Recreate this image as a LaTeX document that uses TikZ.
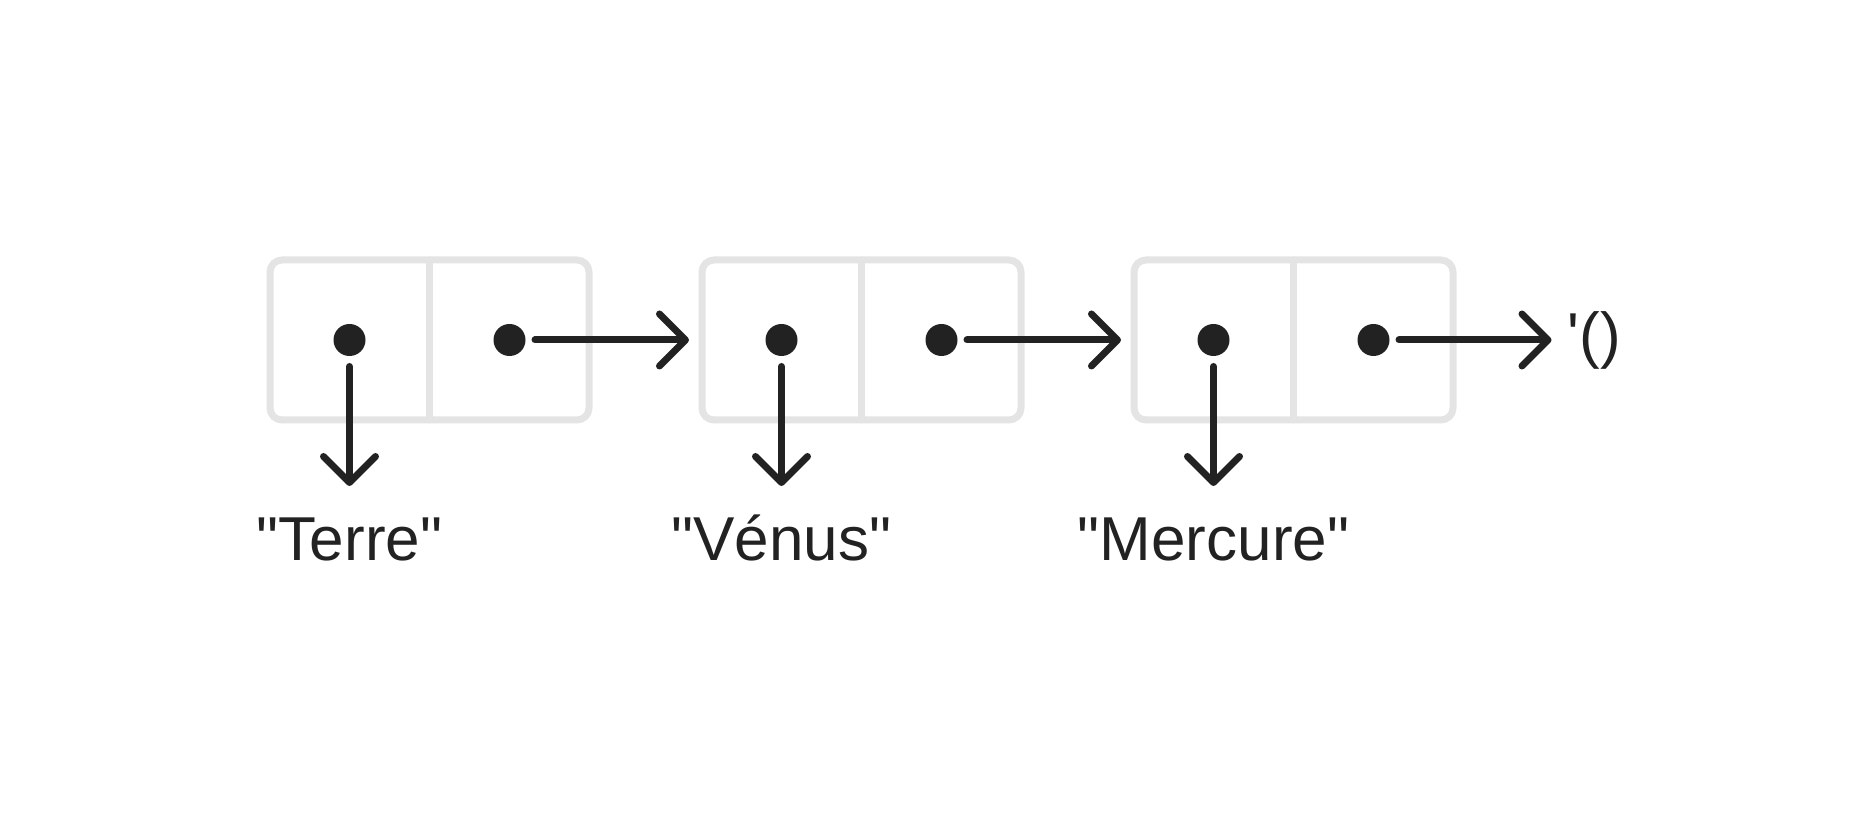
\documentclass[tikz,border=0pt]{standalone}
\usepackage{fontspec}
\setmainfont{Liberation Sans}[Ligatures=TeXOff]
\usetikzlibrary{arrows.meta,positioning}
\definecolor{ink}{HTML}{222222}
\definecolor{cellgray}{HTML}{E4E4E4}

\begin{document}
\begin{tikzpicture}[-{Straight Barb[length=13pt,width=26pt,round]},line width=3.5pt,
                    line cap=round,draw=ink,node distance=56.5pt]
  \tikzstyle{cons}=[draw=cellgray,rounded corners=6pt,minimum width=159.5pt,
                    minimum height=80pt,inner sep=0pt,outer sep=0pt]
  \tikzstyle{ptr}=[circle,fill=ink,draw=none,minimum size=16pt,inner sep=0pt,outer sep=0pt]
  \tikzstyle{word}=[text=ink,font=\fontsize{31pt}{37pt}\selectfont,inner sep=0pt,
                    outer sep=0pt,text height=22pt,text depth=6pt]

  \useasboundingbox (0,0) rectangle (936pt,409pt);

  \node[cons] (A) at (214.75pt,239pt) {};
  \node[cons] (B) [right=of A] {};
  \node[cons] (C) [right=of B] {};
  \foreach \c in {A,B,C}
    \draw[-,cellgray] (\c.north) -- (\c.south);

  \node[ptr] (a1) at ([xshift=-40pt]A.center) {};
  \node[ptr] (a2) at ([xshift=40pt]A.center) {};
  \node[ptr] (b1) at ([xshift=-40pt]B.center) {};
  \node[ptr] (b2) at ([xshift=40pt]B.center) {};
  \node[ptr] (c1) at ([xshift=-40pt]C.center) {};
  \node[ptr] (c2) at ([xshift=40pt]C.center) {};

  \node[word] (earth)   [below=80.5pt of a1] {"Terre"};
  \node[word] (venus)   [below=80.5pt of b1] {"Vénus"};
  \node[word] (mercury) [below=80.5pt of c1] {"Mercure"};
  \node[text=ink,font=\fontsize{31pt}{37pt}\selectfont,inner sep=0pt,outer sep=0pt]
       (nil) [right=89pt of c2] {'()};

  \path[shorten <=5.25pt,shorten >=15.5pt]
        (a1) edge (earth)
        (b1) edge (venus)
        (c1) edge (mercury);
  \path[shorten <=4.75pt,shorten >=6.5pt]
        (a2) edge (B)
        (b2) edge (C);
  \draw[shorten <=4.75pt,shorten >=8pt] (c2) -- (nil);
\end{tikzpicture}
\end{document}
